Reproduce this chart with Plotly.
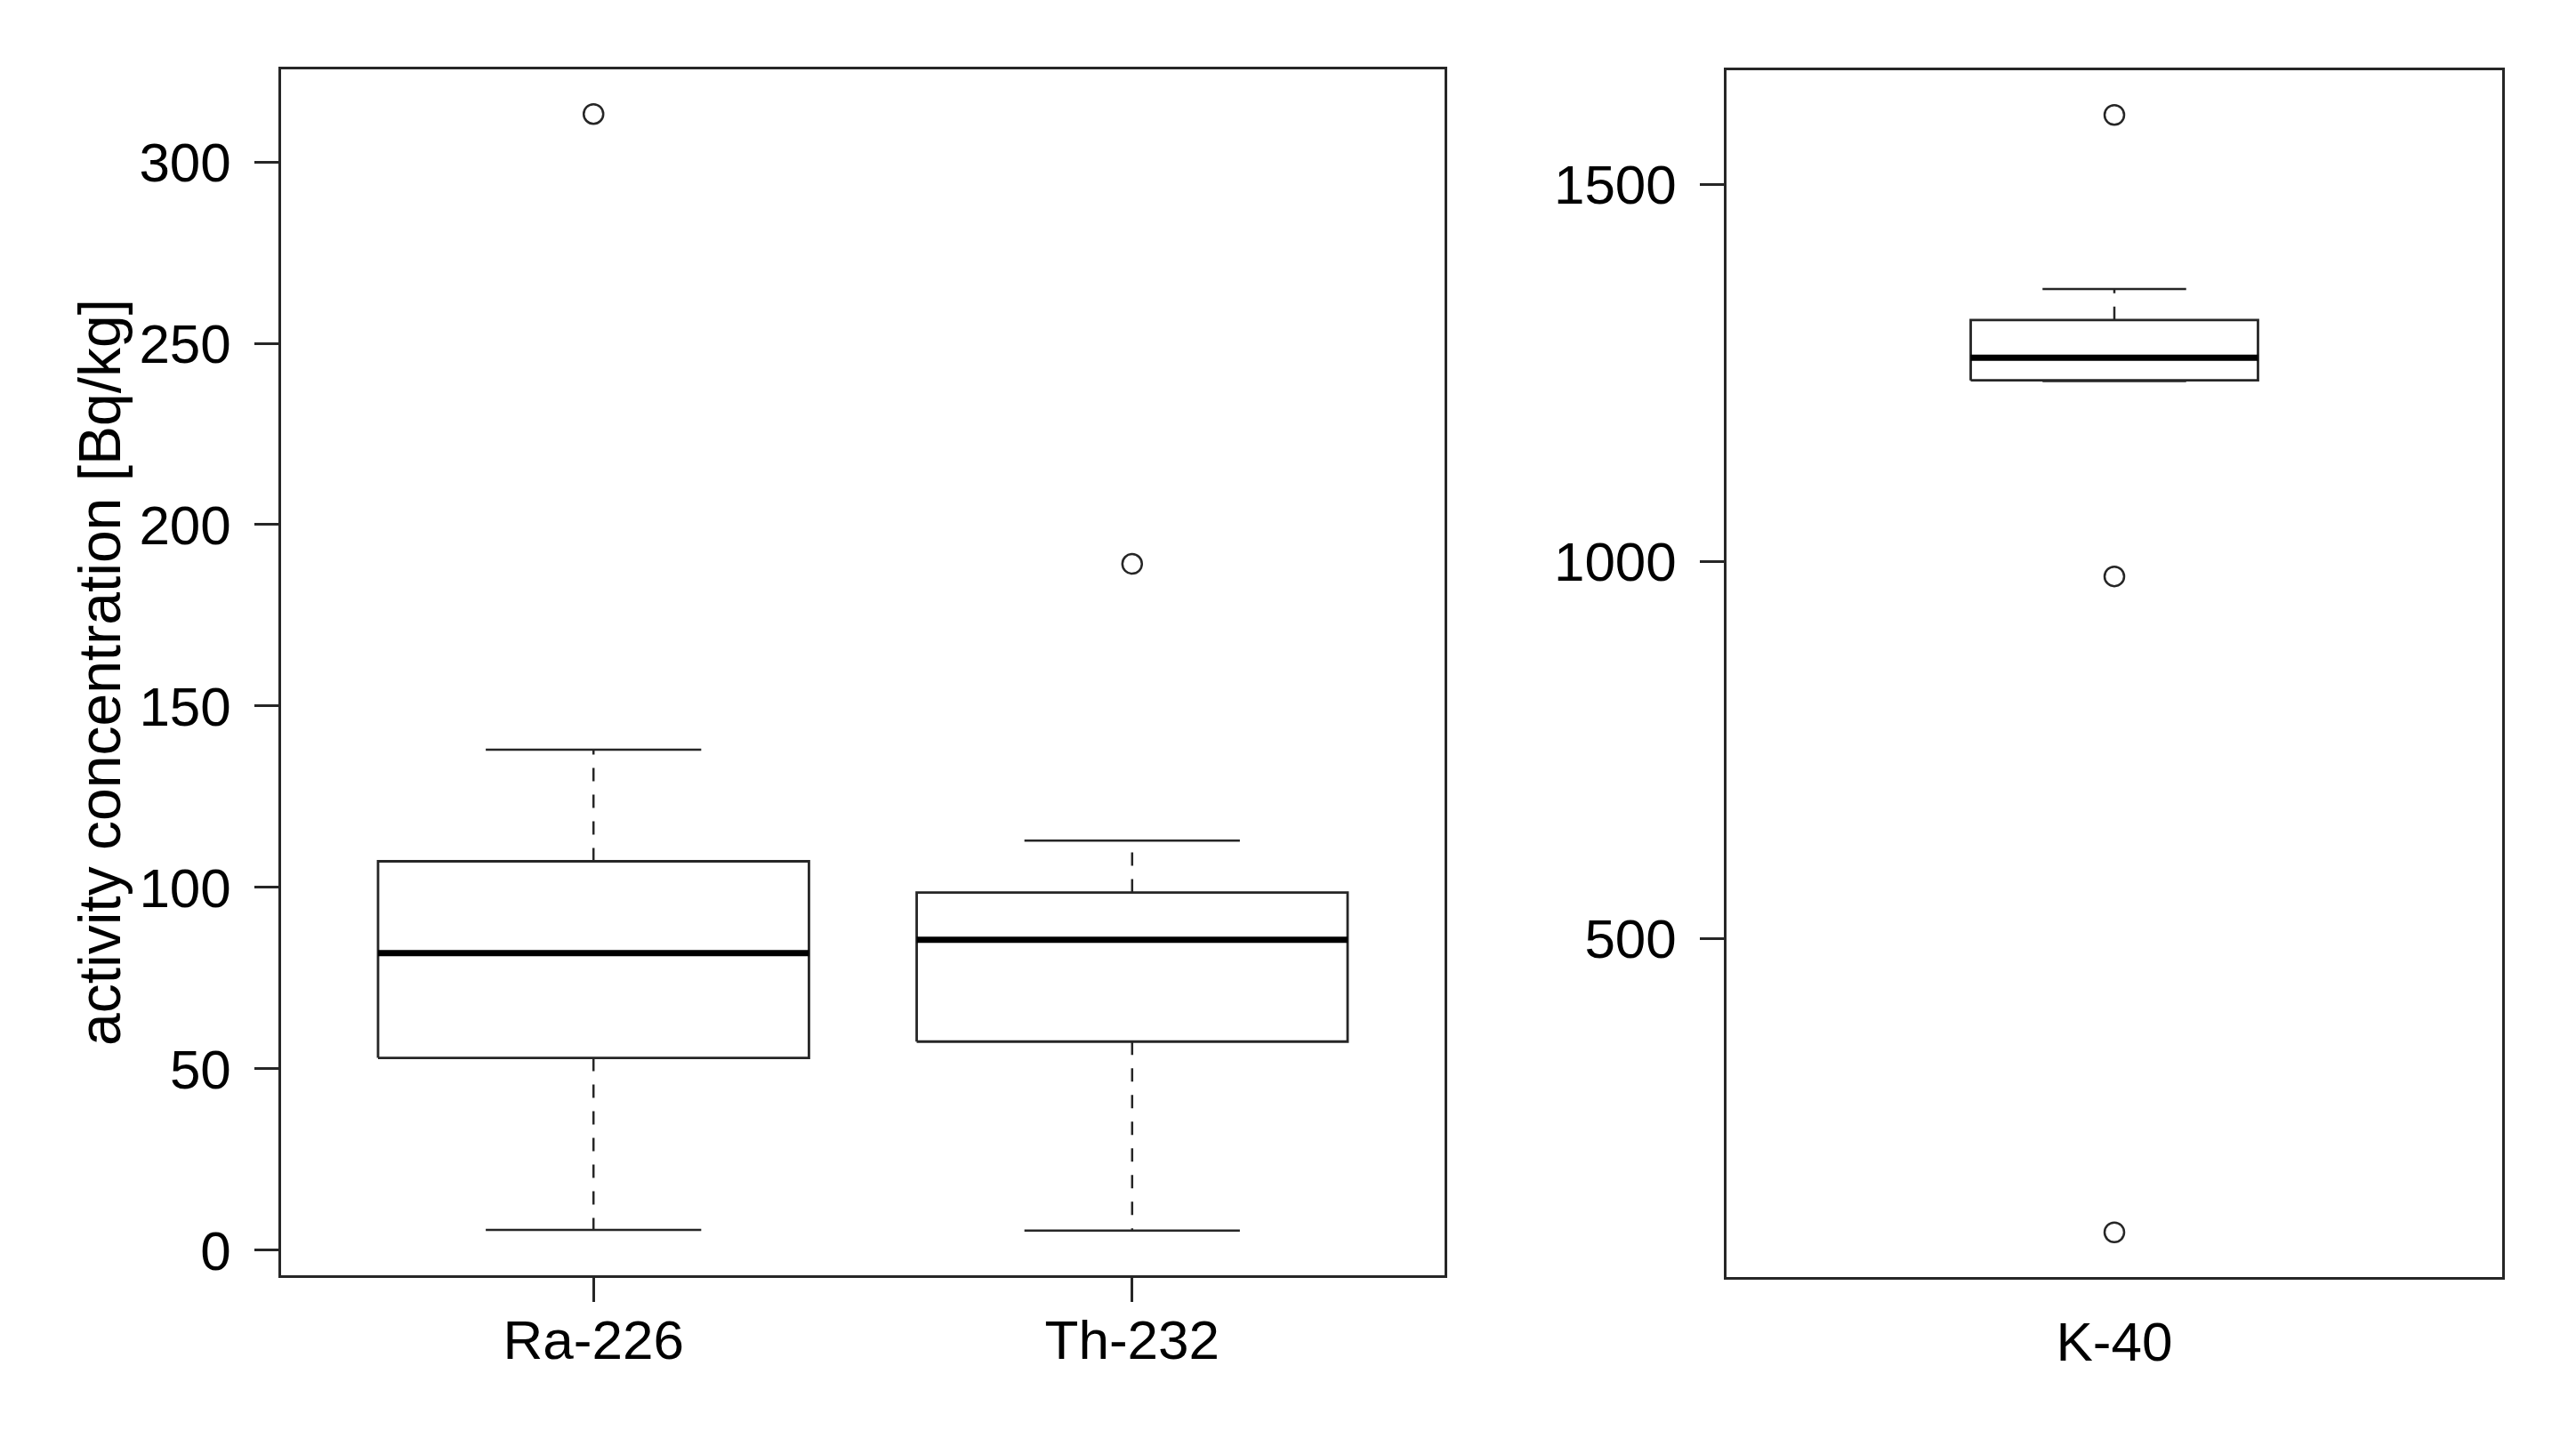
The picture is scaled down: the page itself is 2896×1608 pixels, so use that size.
import plotly.graph_objects as go

# boxplot statistics [Bq/kg]
left_names = ["Ra-226", "Th-232"]
left_lower = [5.6, 5.4]
left_q1 = [53.0, 57.5]
left_median = [81.9, 85.6]
left_q3 = [107.2, 98.6]
left_upper = [138.0, 112.9]
left_outliers = [[313.2], [189.2]]

right_names = ["K-40"]
right_lower = [1239]
right_q1 = [1240]
right_median = [1270]
right_q3 = [1320]
right_upper = [1361]
right_outliers = [[1592, 980, 110]]

left_yticks = [0, 50, 100, 150, 200, 250, 300]
right_yticks = [500, 1000, 1500]

W, H = 2896, 1608
OFF = 8  # page body margin
LINE = "#262626"
FONT = "Liberation Sans"


def add_boxes(fig, xa, ya, names, lo, q1, med, q3, up, outl, half):
    for i, name in enumerate(names):
        x0 = i + 1
        kw = dict(xaxis=xa, yaxis=ya, showlegend=False, hoverinfo="skip")
        # dashed whiskers
        for a, b in [(q3[i], up[i]), (q1[i], lo[i])]:
            fig.add_trace(go.Scatter(x=[x0, x0], y=[a, b], mode="lines",
                                     line=dict(color=LINE, width=2.5, dash="15px,15px"), **kw))
        # whisker caps
        for v in [up[i], lo[i]]:
            fig.add_trace(go.Scatter(x=[x0 - half / 2, x0 + half / 2], y=[v, v], mode="lines",
                                     line=dict(color=LINE, width=2.5), **kw))
        # box
        fig.add_trace(go.Scatter(x=[x0 - half, x0 + half, x0 + half, x0 - half, x0 - half],
                                 y=[q1[i], q1[i], q3[i], q3[i], q1[i]], mode="lines",
                                 line=dict(color=LINE, width=2.8), **kw))
        # median
        fig.add_trace(go.Scatter(x=[x0 - half, x0 + half], y=[med[i], med[i]], mode="lines",
                                 line=dict(color="black", width=7), **kw))
        # outliers
        fig.add_trace(go.Scatter(x=[x0] * len(outl[i]), y=outl[i], mode="markers",
                                 marker=dict(symbol="circle-open", size=22, color=LINE,
                                             line=dict(width=2.5)), **kw))


def r_range(lo, hi):
    # R style 4% extension of the axis
    span = hi - lo
    return [lo - 0.04 * span, hi + 0.04 * span]


fig = go.Figure()
add_boxes(fig, "x", "y", left_names, left_lower, left_q1, left_median, left_q3,
          left_upper, left_outliers, 0.4)
add_boxes(fig, "x2", "y2", right_names, right_lower, right_q1, right_median, right_q3,
          right_upper, right_outliers, 0.2)

lmin = min(left_lower + [v for o in left_outliers for v in o])
lmax = max(left_upper + [v for o in left_outliers for v in o])
rmin = min(right_lower + [v for o in right_outliers for v in o])
rmax = max(right_upper + [v for o in right_outliers for v in o])

ydom = [1 - (1434 - OFF) / H, 1 - (78 - OFF) / H]
ydom2 = [1 - (1436 - OFF) / H, 1 - (79 - OFF) / H]
axis_common = dict(showgrid=False, zeroline=False, showline=True, mirror=True,
                   linecolor=LINE, linewidth=2.5, ticks="outside", ticklen=27,
                   tickwidth=2.5, tickcolor=LINE, automargin=False,
                   tickfont=dict(family=FONT, size=62, color="black"))
xaxis_common = {**axis_common, "ticks": "", "ticklabelstandoff": 17}

fig.update_layout(
    width=W, height=H,
    margin=dict(l=0, r=0, t=0, b=0),
    paper_bgcolor="white", plot_bgcolor="white",
    xaxis=dict(domain=[(316 - OFF) / W, (1624 - OFF) / W], range=r_range(0.5, 2.5),
               tickvals=[1, 2], ticktext=left_names,
               minor=dict(tickvals=[1, 2], ticks="outside", ticklen=27, tickwidth=2.5,
                          tickcolor=LINE, showgrid=False),
               **xaxis_common),
    yaxis=dict(domain=ydom, range=r_range(lmin, lmax), tickvals=left_yticks,
               ticklabelstandoff=14, **axis_common),
    xaxis2=dict(domain=[(1941 - OFF) / W, (2813 - OFF) / W], range=r_range(0.5, 1.5),
                tickvals=[1], ticktext=right_names, anchor="y2", **xaxis_common),
    yaxis2=dict(domain=ydom2, range=r_range(rmin, rmax), tickvals=right_yticks,
                anchor="x2", ticklabelstandoff=14, **axis_common),
    annotations=[dict(text="activity concentration [Bq/kg]", xref="paper", yref="paper",
                      x=(112 - OFF) / W, y=sum(ydom) / 2, xanchor="center", yanchor="middle",
                      textangle=-90, showarrow=False,
                      font=dict(family=FONT, size=66, color="black"))],
)

fig.write_html("out.html")
